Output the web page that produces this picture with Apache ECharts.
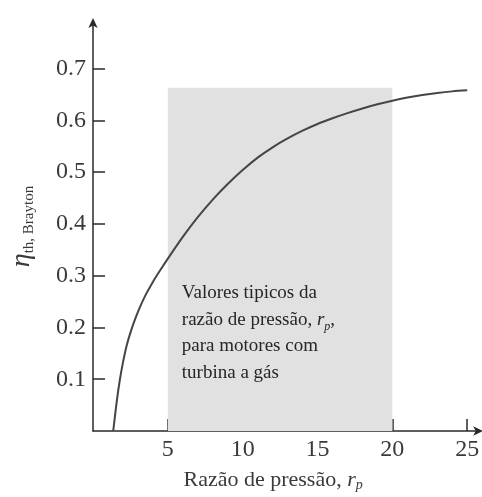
<!DOCTYPE html>
<html>
<head>
<meta charset="utf-8">
<script src="https://cdn.jsdelivr.net/npm/echarts@6/dist/echarts.min.js"></script>
<style>html,body{margin:0;padding:0;background:#fff}#c{width:482px;height:497px}</style>
</head>
<body>
<div id="c"></div>
<script>
// Data
const pressureRatio = [1.35, 1.6, 1.8, 2.0, 2.25, 2.5, 2.8, 3.1, 3.5, 4, 4.5, 5, 6, 7, 8, 9, 10, 11, 12, 13, 14, 15, 16, 17, 18, 19, 20, 21, 22, 23, 24, 25];
const efficiency    = [0, 0.06, 0.1, 0.132, 0.165, 0.19, 0.215, 0.237, 0.262, 0.288, 0.311, 0.333, 0.375, 0.413, 0.447, 0.477, 0.504, 0.528, 0.548, 0.565, 0.58, 0.593, 0.604, 0.614, 0.623, 0.631, 0.638, 0.644, 0.649, 0.653, 0.656, 0.658];
const typicalRange = [5, 20];
const typicalTop = 0.663;
const xTicks = [5, 10, 15, 20, 25];
const yTicks = [0.1, 0.2, 0.3, 0.4, 0.5, 0.6, 0.7];

const serif = 'Liberation Serif, Times New Roman, serif';
const ink = '#2a2a2a';
const labelInk = '#3a3a3a';

const chart = echarts.init(document.getElementById('c'), null, {renderer: 'canvas'});
chart.setOption({
  animation: false,
  backgroundColor: '#fff',
  grid: {left: 86, top: 22, width: 396, height: 411, containLabel: false},
  xAxis: {
    type: 'value', min: 0, max: 25.8,
    axisLine: {show: true, lineStyle: {color: ink, width: 1.5}, symbol: ['none', 'arrow'], symbolSize: [7, 10], symbolOffset: [0, 4]},
    axisTick: {show: true, inside: true, length: 12, customValues: xTicks, lineStyle: {color: ink, width: 1.5}},
    axisLabel: {customValues: xTicks, margin: 7, color: labelInk, fontFamily: serif, fontSize: 24},
    splitLine: {show: false},
    name: 'Razão de pressão, {it|r}{sub|p}',
    nameLocation: 'middle', nameGap: 38,
    nameTextStyle: {
      color: labelInk, fontFamily: serif, fontSize: 22, padding: [0, 26, 0, 0],
      rich: {
        it: {fontFamily: serif, fontSize: 22, fontStyle: 'italic', color: labelInk},
        sub: {fontFamily: serif, fontSize: 14, fontStyle: 'italic', color: labelInk, verticalAlign: 'bottom', padding: [9, 0, 0, 0]}
      }
    }
  },
  yAxis: {
    type: 'value', min: 0, max: 0.79,
    axisLine: {show: true, lineStyle: {color: ink, width: 1.5}, symbol: ['none', 'arrow'], symbolSize: [7, 10], symbolOffset: [0, 4]},
    axisTick: {show: true, inside: true, length: 12, customValues: yTicks, lineStyle: {color: ink, width: 1.5}},
    axisLabel: {customValues: yTicks, margin: 7, color: labelInk, fontFamily: serif, fontSize: 24,
      formatter: v => v.toFixed(1)},
    splitLine: {show: false},
    name: '{eta|η}{sub|th, Brayton}',
    nameLocation: 'middle', nameGap: 56, nameRotate: 90,
    nameTextStyle: {
      color: labelInk, fontFamily: serif,
      rich: {
        eta: {fontFamily: serif, fontSize: 28, fontStyle: 'italic', color: labelInk, lineHeight: 30},
        sub: {fontFamily: serif, fontSize: 15, color: labelInk, verticalAlign: 'bottom', lineHeight: 15}
      }
    }
  },
  series: [{
    type: 'line',
    data: pressureRatio.map((x, i) => [x, efficiency[i]]),
    smooth: 0.3,
    showSymbol: false,
    lineStyle: {color: '#454545', width: 2},
    z: 3,
    markArea: {
      silent: true,
      itemStyle: {color: '#e1e1e1'},
      label: {
        show: true,
        position: [14, 192],
        align: 'left', verticalAlign: 'top',
        color: '#262626', fontFamily: serif, fontSize: 19, lineHeight: 26.7,
        formatter: 'Valores tipicos da\nrazão de pressão, {it|r}{sub|p},\npara motores com\nturbina a gás',
        rich: {
          it: {fontFamily: serif, fontSize: 19, fontStyle: 'italic', color: '#262626', lineHeight: 26.7},
          sub: {fontFamily: serif, fontSize: 12, fontStyle: 'italic', color: '#262626', verticalAlign: 'bottom', lineHeight: 20}
        }
      },
      data: [[{xAxis: typicalRange[0], yAxis: 0}, {xAxis: typicalRange[1], yAxis: typicalTop}]]
    }
  }]
});
</script>
</body>
</html>
